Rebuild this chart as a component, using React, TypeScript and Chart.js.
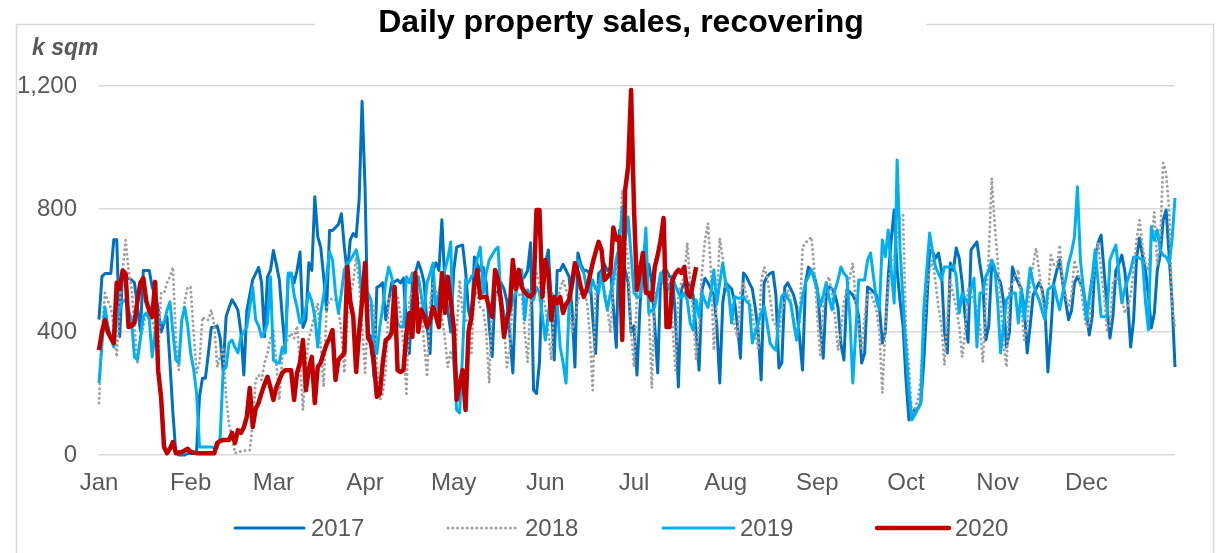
import React, { useEffect, useRef } from "react";
import { Chart, registerables } from "chart.js";

Chart.register(...registerables);

const MONTH_STARTS = [0, 31, 59, 90, 120, 151, 181, 212, 243, 273, 304, 334];
const MONTH_LABELS = ["Jan", "Feb", "Mar", "Apr", "May", "Jun", "Jul", "Aug", "Sep", "Oct", "Nov", "Dec"];
const Y_TICKS = [0, 400, 800, 1200];
const SERIES_NAMES = ["2017", "2018", "2019", "2020"];
const TITLE = "Daily property sales, recovering";
const UNIT = "k sqm";

// daily values, k sqm (index = day of year)
const SALES_2017 = [
  440, 580, 590, 590, 590, 700, 700,
  385, 600, 570, 575, 570, 560, 480,
  405, 600, 600, 600, 546, 520, 480,
  400, 430, 450, 300, 137, 5, 0,
  0, 0, 5, 5, 5, 10, 190,
  250, 250, 330, 415, 415, 420, 380,
  275, 450, 480, 505, 490, 470, 400,
  260, 470, 520, 570, 590, 610, 560,
  385, 580, 600, 665, 620, 570, 450,
  340, 580, 590, 560, 600, 660, 415,
  440, 625, 600, 840, 710, 676, 580,
  470, 730, 730, 740, 750, 785, 676,
  590, 700, 720, 710, 830, 1150, 870,
  395, 385, 255, 545, 550, 560, 440,
  500, 560, 563, 570, 560, 575, 420,
  330, 560, 590, 627, 600, 560, 420,
  330, 600, 625, 600, 765, 560, 470,
  400, 600, 676, 680, 683, 600, 470,
  430, 644, 620, 600, 610, 560, 420,
  320, 527, 530, 560, 540, 500, 390,
  267, 527, 560, 570, 580, 600, 690,
  211, 200, 300, 600, 620, 667, 500,
  309, 600, 600, 620, 600, 580, 480,
  286, 657, 620, 600, 600, 590, 450,
  330, 590, 600, 620, 600, 610, 480,
  350, 730, 640, 600, 560, 400, 420,
  260, 480, 634, 600, 620, 560, 420,
  267, 580, 600, 600, 580, 580, 450,
  221, 537, 560, 560, 550, 520, 400,
  276, 537, 575, 560, 540, 520, 420,
  234, 494, 560, 550, 540, 500, 420,
  315, 592, 580, 560, 540, 480, 400,
  244, 560, 580, 590, 595, 520, 283,
  300, 546, 560, 540, 520, 480, 380,
  276, 560, 611, 600, 580, 540, 420,
  315, 520, 546, 540, 520, 480, 360,
  309, 537, 530, 520, 500, 450, 299,
  330, 546, 540, 530, 520, 480, 364,
  400, 580, 700, 797, 600, 500, 420,
  244, 114, 130, 150, 150, 169, 300,
  481, 667, 660, 640, 657, 600, 400,
  332, 624, 600, 673, 640, 560, 450,
  367, 667, 680, 693, 620, 560, 374,
  420, 624, 600, 580, 560, 500, 351,
  400, 611, 580, 560, 540, 480, 332,
  420, 520, 540, 560, 540, 480, 270,
  400, 560, 600, 634, 560, 500, 440,
  470, 560, 580, 560, 540, 470, 390,
  450, 640, 690, 715, 600, 480, 380,
  450, 600, 620, 650, 600, 500, 351,
  440, 640, 706, 650, 600, 520, 413,
  460, 600, 650, 764, 797, 650, 500,
  286,
];

const SALES_2018 = [
  169, 400, 527, 500, 480, 420, 319, 494, 600, 699,
  600, 546, 420, 299, 374, 420, 462, 450, 440, 397,
  330, 527, 527, 560, 580, 611, 380, 276, 429, 500,
  546, 546, 400, 267, 300, 449, 440, 440, 472, 420,
  286, 320, 351, 189, 100, 60, 6, 10, 12, 14,
  16, 16, 100, 244, 260, 244, 300, 330, 380, 406,
  300, 179, 320, 360, 380, 397, 380, 420, 300, 146,
  300, 380, 416, 460, 494, 350, 221, 480, 504, 510,
  504, 480, 400, 267, 450, 527, 560, 644, 560, 420,
  267, 460, 500, 480, 300, 179, 200, 280, 504, 520,
  527, 520, 450, 360, 200, 504, 527, 527, 510, 480,
  360, 254, 494, 559, 530, 500, 449, 380, 286, 340,
  300, 400, 569, 462, 440, 429, 332, 546, 520, 480,
  472, 400, 234, 504, 520, 527, 481, 420, 286, 350,
  527, 527, 520, 527, 400, 302, 504, 560, 592, 560,
  520, 481, 400, 309, 504, 504, 540, 569, 540, 504,
  400, 449, 500, 527, 520, 504, 400, 211, 527, 560,
  580, 537, 480, 397, 546, 600, 634, 862, 700, 634,
  400, 286, 527, 592, 592, 580, 480, 218, 527, 527,
  580, 580, 592, 540, 420, 276, 527, 560, 580, 690,
  560, 462, 309, 429, 600, 700, 754, 600, 341, 500,
  706, 640, 546, 520, 480, 420, 384, 527, 559, 520,
  500, 460, 400, 341, 560, 611, 580, 514, 440, 420,
  384, 472, 500, 537, 500, 440, 384, 430, 676, 690,
  700, 709, 600, 450, 319, 480, 560, 580, 520, 450,
  341, 400, 500, 537, 580, 624, 500, 420, 341, 450,
  527, 527, 500, 472, 400, 202, 416, 540, 634, 640,
  700, 774, 780, 400, 286, 124, 150, 180, 250, 400,
  550, 600, 634, 560, 480, 420, 293, 450, 569, 520,
  480, 420, 319, 400, 546, 520, 500, 480, 420, 302,
  500, 650, 900, 750, 634, 500, 360, 286, 540, 560,
  580, 602, 480, 374, 420, 560, 620, 673, 600, 520,
  439, 500, 650, 620, 611, 683, 560, 520, 481, 520,
  634, 600, 560, 480, 416, 420, 560, 620, 690, 600,
  520, 407, 420, 560, 580, 560, 520, 462, 480, 520,
  600, 700, 764, 680, 624, 600, 700, 790, 620, 700,
  950, 917, 800, 481, 420,
];

const SALES_2019 = [
  234, 360, 481, 420, 380, 351, 449, 472, 500, 504,
  470, 439, 319, 309, 380, 449, 462, 440, 319, 400,
  439, 430, 429, 470, 498, 400, 309, 299, 439, 481,
  420, 332, 280, 202, 26, 26, 26, 26, 26, 23,
  23, 59, 276, 286, 364, 374, 350, 332, 384, 400,
  416, 480, 546, 439, 420, 384, 400, 429, 580, 309,
  300, 299, 351, 332, 592, 592, 520, 480, 429, 440,
  480, 527, 500, 450, 351, 462, 520, 580, 660, 634,
  527, 462, 527, 602, 624, 633, 650, 667, 624, 504,
  540, 527, 504, 351, 330, 416, 481, 560, 611, 580,
  527, 429, 416, 416, 580, 560, 592, 527, 580, 520,
  462, 560, 590, 624, 462, 527, 580, 600, 640, 693,
  300, 146, 137, 332, 569, 560, 580, 590, 640, 676,
  527, 592, 634, 650, 667, 676, 504, 460, 416, 460,
  504, 527, 560, 602, 439, 537, 520, 504, 546, 527,
  450, 374, 462, 527, 510, 494, 351, 300, 234, 481,
  540, 592, 634, 610, 592, 540, 527, 569, 540, 527,
  592, 520, 472, 527, 569, 640, 676, 807, 699, 774,
  650, 527, 514, 514, 600, 738, 462, 470, 481, 540,
  592, 560, 527, 550, 580, 550, 527, 510, 527, 504,
  429, 406, 504, 450, 527, 500, 480, 530, 602, 490,
  560, 624, 560, 530, 429, 515, 510, 510, 515, 500,
  490, 364, 400, 429, 461, 484, 430, 364, 350, 341,
  450, 517, 527, 510, 494, 430, 374, 450, 517, 560,
  580, 602, 570, 537, 484, 520, 560, 510, 472, 537,
  570, 611, 590, 580, 452, 234, 400, 569, 569, 569,
  634, 657, 580, 504, 472, 699, 645, 732, 600, 494,
  959, 667, 500, 341, 211, 114, 130, 150, 169, 472,
  600, 722, 660, 612, 590, 569, 611, 611, 611, 617,
  580, 462, 527, 510, 494, 540, 575, 351, 527, 527,
  581, 600, 634, 611, 500, 332, 419, 505, 516, 527,
  527, 429, 537, 440, 520, 608, 560, 527, 505, 470,
  440, 537, 545, 553, 510, 472, 527, 570, 624, 660,
  710, 872, 634, 540, 440, 510, 581, 667, 560, 450,
  450, 450, 634, 660, 683, 590, 494, 540, 570, 600,
  644, 644, 640, 634, 500, 407, 742, 699, 732, 667,
  650, 644, 624, 700, 836,
];

const SALES_2020 = [
  341, 400, 439, 400, 380, 364, 560, 540, 600, 590,
  416, 420, 430, 500, 560, 575, 500, 470, 449, 563,
  276, 189, 26, 6, 20, 42, 6, 8, 10, 15,
  20, 10, 8, 6, 6, 6, 6, 6, 6, 6,
  39, 45, 49, 49, 49, 72, 39, 81, 72, 90,
  124, 218, 91, 150, 170, 202, 230, 254, 220, 179,
  220, 244, 267, 276, 276, 276, 179, 267, 300, 374,
  211, 280, 319, 169, 286, 300, 332, 360, 380, 406,
  244, 309, 320, 332, 611, 500, 450, 270, 400, 500,
  624, 384, 364, 300, 189, 200, 300, 374, 380, 397,
  546, 276, 270, 276, 397, 462, 384, 592, 400, 472,
  450, 416, 439, 481, 450, 416, 592, 462, 580, 500,
  416, 179, 230, 276, 146, 400, 450, 550, 602, 511,
  514, 514, 480, 449, 602, 569, 500, 384, 440, 481,
  634, 540, 602, 546, 530, 520, 514, 527, 797, 797,
  514, 634, 592, 439, 514, 494, 514, 462, 490, 504,
  560, 624, 592, 546, 514, 540, 580, 624, 660, 693,
  667, 569, 580, 592, 740, 700, 709, 374, 862, 937,
  1187, 797, 537, 600, 657, 527, 527, 504, 611, 650,
  699, 771, 416, 416, 569, 590, 602, 592, 611, 527,
  514, 560, 611,
];

const FONT = '"Liberation Sans", Arial, Helvetica, sans-serif';
const TEXT_GREY = "#595959";

type SeriesStyle = {
  name: string;
  values: number[];
  color: string;
  width: number;
  dash: number[];
  order: number;
};

const SERIES: SeriesStyle[] = [
  { name: SERIES_NAMES[0], values: SALES_2017, color: "#0070C0", width: 3, dash: [], order: 3 },
  { name: SERIES_NAMES[1], values: SALES_2018, color: "#A0A0A0", width: 3, dash: [0, 4.8], order: 2 },
  { name: SERIES_NAMES[2], values: SALES_2019, color: "#00B0F0", width: 3, dash: [], order: 1 },
  { name: SERIES_NAMES[3], values: SALES_2020, color: "#C00000", width: 4.5, dash: [], order: 0 },
];

// legend layout (line start, line end, text start)
const LEGEND_POS = [
  [235, 304, 311],
  [448, 516, 525],
  [663, 734, 740],
  [877, 949, 955],
];

const decorPlugin = {
  id: "decor",
  beforeDraw(chart: any) {
    const ctx = chart.ctx as CanvasRenderingContext2D;
    ctx.save();
    ctx.strokeStyle = "#D9D9D9";
    ctx.lineWidth = 1.5;
    ctx.beginPath();
    ctx.moveTo(315, 24.5);
    ctx.lineTo(16.5, 24.5);
    ctx.lineTo(16.5, 560);
    ctx.moveTo(926, 24.5);
    ctx.lineTo(1213.5, 24.5);
    ctx.lineTo(1213.5, 560);
    ctx.stroke();
    ctx.restore();
  },
  afterDraw(chart: any) {
    const ctx = chart.ctx as CanvasRenderingContext2D;
    ctx.save();
    // title
    ctx.fillStyle = "#000000";
    ctx.font = `bold 32px ${FONT}`;
    ctx.textAlign = "center";
    ctx.textBaseline = "alphabetic";
    ctx.fillText(TITLE, 621, 32);
    // unit label
    ctx.fillStyle = TEXT_GREY;
    ctx.font = `italic bold 23px ${FONT}`;
    ctx.textAlign = "left";
    ctx.fillText(UNIT, 32, 55);
    // legend
    const ly = 528;
    SERIES.forEach((s, i) => {
      const [x0, x1, tx] = LEGEND_POS[i];
      ctx.save();
      ctx.strokeStyle = s.color;
      ctx.lineWidth = s.width;
      ctx.lineCap = "round";
      ctx.setLineDash(s.dash);
      ctx.beginPath();
      ctx.moveTo(x0, ly);
      ctx.lineTo(x1, ly);
      ctx.stroke();
      ctx.restore();
      ctx.fillStyle = TEXT_GREY;
      ctx.font = `24px ${FONT}`;
      ctx.textAlign = "left";
      ctx.textBaseline = "middle";
      ctx.fillText(s.name, tx, ly + 1);
    });
    ctx.restore();
  },
};

export default function App() {
  const canvasRef = useRef<HTMLCanvasElement>(null);

  useEffect(() => {
    const canvas = canvasRef.current;
    if (!canvas) return;
    const chart = new Chart(canvas, {
      type: "line",
      data: {
        datasets: SERIES.map((s) => ({
          label: s.name,
          data: s.values.map((v, i) => ({ x: i, y: v })),
          borderColor: s.color,
          backgroundColor: s.color,
          borderWidth: s.width,
          borderDash: s.dash,
          borderCapStyle: s.dash.length ? "round" : "butt",
          borderJoinStyle: "round",
          pointRadius: 0,
          pointHoverRadius: 0,
          tension: 0,
          fill: false,
          order: s.order,
          clip: false,
        })) as any,
      },
      options: {
        responsive: false,
        animation: false,
        events: [],
        layout: { padding: { top: 86, right: 48, bottom: 0, left: 0 } },
        plugins: {
          legend: { display: false },
          title: { display: false },
          tooltip: { enabled: false },
        },
        scales: {
          x: {
            type: "linear",
            min: 0,
            max: 364,
            grid: { display: false, drawTicks: false },
            border: { display: false },
            afterBuildTicks: (scale: any) => {
              scale.ticks = MONTH_STARTS.map((v) => ({ value: v }));
            },
            afterFit: (scale: any) => {
              scale.height = 98;
            },
            ticks: {
              autoSkip: false,
              maxRotation: 0,
              minRotation: 0,
              padding: 14,
              color: TEXT_GREY,
              font: { family: FONT, size: 24 },
              callback: (_v: any, index: number) => MONTH_LABELS[index] ?? "",
            },
          },
          y: {
            min: 0,
            max: 1200,
            afterBuildTicks: (scale: any) => {
              scale.ticks = Y_TICKS.map((v) => ({ value: v }));
            },
            afterFit: (scale: any) => {
              scale.width = 99;
            },
            grid: { color: "#D9D9D9", lineWidth: 1.5, drawTicks: false },
            border: { display: false },
            ticks: {
              padding: 22,
              color: TEXT_GREY,
              font: { family: FONT, size: 24 },
              callback: (v: any) => Number(v).toLocaleString("en-US"),
            },
          },
        },
      } as any,
      plugins: [decorPlugin],
    });
    return () => chart.destroy();
  }, []);

  return (
    <div style={{ position: "absolute", left: 0, top: 0, width: 1223, height: 553, background: "#ffffff" }}>
      <canvas ref={canvasRef} width={1223} height={553} style={{ display: "block" }} />
    </div>
  );
}
